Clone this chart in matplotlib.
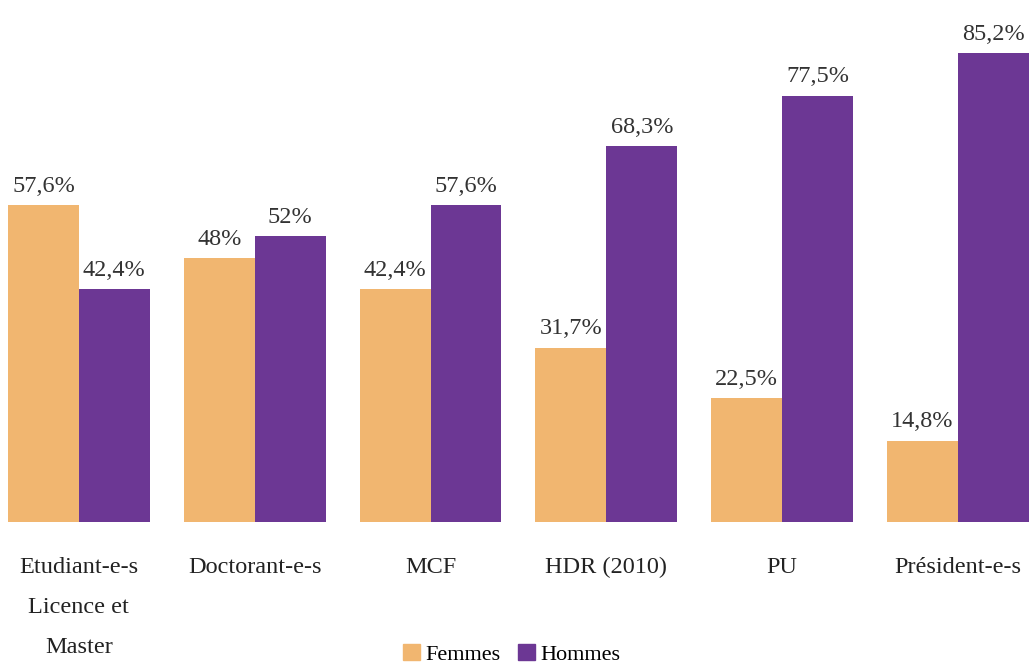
import matplotlib.pyplot as plt
import numpy as np
from matplotlib.patches import Patch

categories = ['Etudiant-e-s\nLicence et\nMaster', 'Doctorant-e-s', 'MCF',
              'HDR (2010)', 'PU', 'Président-e-s']
femmes = [57.6, 48, 42.4, 31.7, 22.5, 14.8]
hommes = [42.4, 52, 57.6, 68.3, 77.5, 85.2]
femmes_lbl = ['57,6%', '48%', '42,4%', '31,7%', '22,5%', '14,8%']
hommes_lbl = ['42,4%', '52%', '57,6%', '68,3%', '77,5%', '85,2%']

c_f = '#F1B670'
c_h = '#6C3794'

plt.rcParams['font.family'] = ['Liberation Serif', 'DejaVu Serif']

fig = plt.figure(figsize=(10.30, 6.69), dpi=100)
ax = fig.add_axes([0, 0.2197, 1, 0.7803])

x = np.arange(len(categories))
w = 0.403
ax.bar(x - w / 2, femmes, w, color=c_f)
ax.bar(x + w / 2, hommes, w, color=c_h)

for xi, v, s in zip(x, femmes, femmes_lbl):
    ax.text(xi - w / 2, v + 1.5, s, ha='center', va='bottom', fontsize=17.5, color='#333333')
for xi, v, s in zip(x, hommes, hommes_lbl):
    ax.text(xi + w / 2, v + 1.5, s, ha='center', va='bottom', fontsize=17.5, color='#333333')

ax.set_xlim(-0.449, 5.41)
ax.set_ylim(0, 94.9)
ax.axis('off')

# category names below the baseline
for xi, c in zip(x, categories):
    ax.text(xi, -6.3, c, ha='center', va='top', fontsize=17.5, color='#222222',
            linespacing=2.2)

handles = [Patch(color=c_f, label='Femmes'), Patch(color=c_h, label='Hommes')]
fig.legend(handles=handles, loc='lower center', bbox_to_anchor=(0.497, -0.024), ncol=2,
           frameon=False, fontsize=16, handlelength=0.75, handleheight=0.75,
           handletextpad=0.25, columnspacing=0.8)

fig.savefig('out.png', dpi=100)
